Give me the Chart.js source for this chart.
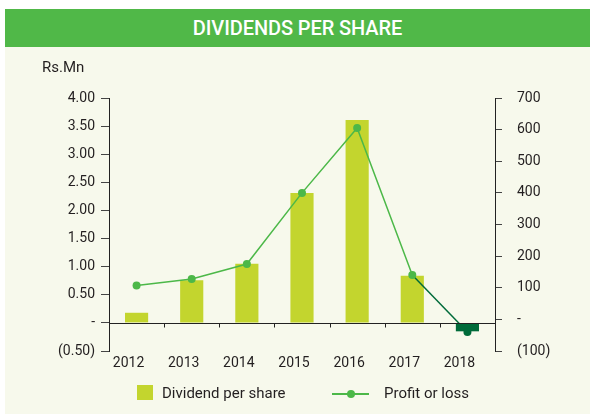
<!DOCTYPE html>
<html>
<head>
<meta charset="utf-8">
<script src="https://cdn.jsdelivr.net/npm/chart.js@4"></script>
<style>
  html, body { margin: 0; padding: 0; background: #fff; }
  body { width: 590px; height: 414px; position: relative; overflow: hidden; font-family: Roboto, sans-serif; }
  #title {
    position: absolute; left: 5px; top: 9px; width: 585px; height: 38px;
    background: #50b848; color: #fff; font-weight: 500; font-size: 20px;
    letter-spacing: -0.1px; text-align: center; line-height: 38px;
  }
  #panel { position: absolute; left: 5px; top: 47px; width: 585px; height: 367px; background: #f7f9ec; }
  #unit { position: absolute; left: 37px; top: 11px; font-size: 15px; color: #231f20; }
  #wrap { position: absolute; left: 0; top: 0; width: 585px; height: 367px; }
  #legend { position: absolute; top: 338px; left: 0; width: 585px; font-size: 15px; color: #231f20; }
  .item { position: absolute; top: 0; height: 16px; line-height: 16px; white-space: nowrap; }
  .box { display: inline-block; width: 16px; height: 15px; background: #c3d52e; vertical-align: top; margin-right: 9px; }
  .ln { display: inline-block; position: relative; width: 37px; height: 16px; vertical-align: top; margin-right: 15px; }
  .ln:before { content: ""; position: absolute; left: 0; right: 0; top: 8px; height: 1.5px; background: #4cb848; }
  .ln:after { content: ""; position: absolute; left: 15px; top: 4.5px; width: 8px; height: 8px; border-radius: 50%; background: #4cb848; }
</style>
</head>
<body>
<div id="title">DIVIDENDS PER SHARE</div>
<div id="panel">
  <div id="wrap"><canvas id="chart"></canvas></div>
  <div id="unit">Rs.Mn</div>
  <div id="legend">
    <div class="item" style="left:132px"><span class="box"></span>Dividend per share</div>
    <div class="item" style="left:327px"><span class="ln"></span>Profit or loss</div>
  </div>
</div>
<script>
// values
const years = ['2012', '2013', '2014', '2015', '2016', '2017', '2018'];
const dividendPerShare = [0.18, 0.76, 1.05, 2.31, 3.61, 0.84, -0.15];
const profitOrLoss = [107, 128, 175, 400, 605, 140, -40];

const LIME = '#c3d52e';
const DARK = '#006b3a';
const GREEN = '#4cb848';
const INK = '#231f20';

const fmtLeft = v => {
  if (Math.abs(v) < 1e-9) return '-';
  if (v < 0) return '(' + Math.abs(v).toFixed(2) + ')';
  return v.toFixed(2);
};
const fmtRight = v => {
  if (v === 0) return '-';
  if (v < 0) return '(' + Math.abs(v) + ')';
  return String(v);
};

// zero line along the x axis, with small ticks between categories
const zeroLine = {
  id: 'zeroLine',
  afterDatasetsDraw(chart) {
    const { ctx, chartArea, scales } = chart;
    const y0 = Math.round(scales.y.getPixelForValue(0)) + 0.5;
    ctx.save();
    ctx.strokeStyle = '#222';
    ctx.lineWidth = 1;
    ctx.beginPath();
    ctx.moveTo(chartArea.left, y0);
    ctx.lineTo(chartArea.right, y0);
    for (let i = 1; i < years.length; i++) {
      const x = Math.round((scales.x.getPixelForValue(i - 1) + scales.x.getPixelForValue(i)) / 2) + 0.5;
      ctx.moveTo(x, y0);
      ctx.lineTo(x, y0 + 4);
    }
    ctx.stroke();
    ctx.restore();
  }
};

new Chart(document.getElementById('chart'), {
  type: 'bar',
  data: {
    labels: years,
    datasets: [
      {
        type: 'bar',
        label: 'Dividend per share',
        data: dividendPerShare,
        yAxisID: 'y',
        backgroundColor: dividendPerShare.map(v => v < 0 ? DARK : LIME),
        categoryPercentage: 1,
        barPercentage: 0.42,
        order: 2
      },
      {
        type: 'line',
        label: 'Profit or loss',
        data: profitOrLoss,
        yAxisID: 'y1',
        borderColor: GREEN,
        borderWidth: 1.5,
        pointRadius: 4,
        pointBorderWidth: 0,
        pointBackgroundColor: profitOrLoss.map(v => v < 0 ? DARK : GREEN),
        segment: {
          borderColor: c => c.p1.parsed.y < 0 ? DARK : GREEN
        },
        order: 1
      }
    ]
  },
  options: {
    responsive: true,
    maintainAspectRatio: false,
    animation: false,
    layout: { padding: { top: 51, left: 0, right: 0, bottom: 0 } },
    plugins: { legend: { display: false }, tooltip: { enabled: false } },
    scales: {
      x: {
        offset: true,
        grid: { display: false },
        border: { display: false },
        ticks: { color: INK, font: { family: 'Roboto', size: 14 }, padding: -4, labelOffset: -8, maxRotation: 0 },
        afterFit(s) { s.height = 63; }
      },
      y: {
        position: 'left',
        min: -0.5,
        max: 4,
        border: { display: true, color: '#222', width: 1 },
        grid: { drawOnChartArea: false, color: '#444', tickLength: 8 },
        ticks: { stepSize: 0.5, color: INK, font: { family: 'Roboto', size: 14 }, padding: 6, callback: fmtLeft },
        afterFit(s) { s.width = 104; }
      },
      y1: {
        position: 'right',
        min: -100,
        max: 700,
        border: { display: true, color: '#222', width: 1 },
        grid: { drawOnChartArea: false, color: '#444', tickLength: 7 },
        ticks: { stepSize: 100, color: INK, font: { family: 'Roboto', size: 14 }, padding: 15, callback: fmtRight },
        afterFit(s) { s.width = 95; }
      }
    }
  },
  plugins: [zeroLine]
});
</script>
</body>
</html>
